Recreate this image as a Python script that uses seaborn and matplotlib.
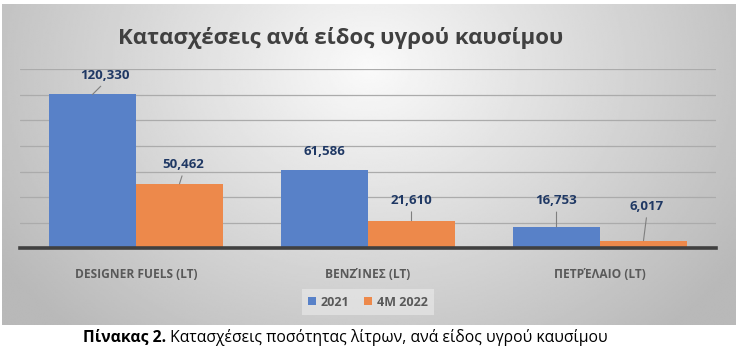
import numpy as np
import pandas as pd
import matplotlib.pyplot as plt
import seaborn as sns

# chart data
categories = ["DESIGNER FUELS (LT)", "ΒΕΝΖΊΝΕΣ (LT)", "ΠΕΤΡΈΛΑΙΟ (LT)"]
series_names = ["2021", "4M 2022"]
values_2021 = [120330, 61586, 16753]
values_4m2022 = [50462, 21610, 6017]

title = "Κατασχέσεις ανά είδος υγρού καυσίμου"
caption_bold = "Πίνακας 2."
caption_rest = " Κατασχέσεις ποσότητας λίτρων, ανά είδος υγρού καυσίμου"

df = pd.DataFrame({
    "category": categories * 2,
    "series": [series_names[0]] * 3 + [series_names[1]] * 3,
    "value": values_2021 + values_4m2022,
})

sns.set_style("white")
plt.rcParams['font.family'] = ['Open Sans', 'DejaVu Sans']

W, H = 741, 351
fig = plt.figure(figsize=(W / 100, H / 100), dpi=100, facecolor="white")

# gray radial gradient panel behind the chart
bg = fig.add_axes([2 / W, 1 - 325 / H, 734 / W, 321 / H], zorder=0)
u, v = np.meshgrid(np.linspace(0, 1, 400), np.linspace(0, 1, 200))
d = np.sqrt(((u - 0.5) / 0.6) ** 2 + ((v - 0.2) / 1.1) ** 2)
bg.imshow(250 - 65 * np.clip(d, 0, 1), cmap="gray", vmin=0, vmax=255,
          aspect="auto", extent=(0, 1, 0, 1), interpolation="bilinear")
bg.set_axis_off()

ax = fig.add_axes([20 / W, 1 - 248.3 / H, 696 / W, 179 / H], zorder=1)
ax.patch.set_alpha(0)

sns.barplot(data=df, x="category", y="value", hue="series",
            palette=["#5881C8", "#ED894B"], width=0.75, saturation=1,
            linewidth=0, ax=ax, zorder=2)

ax.set_ylim(0, 140000)
ax.set_xlim(-0.5, 2.5)
ax.set_yticks(range(0, 140001, 20000))
ax.yaxis.grid(True, color="#ababab", linewidth=0.9)
ax.set_axisbelow(True)
ax.tick_params(axis="y", left=False, labelleft=False)
ax.tick_params(axis="x", bottom=False, pad=11)
for s in ["top", "left", "right"]:
    ax.spines[s].set_visible(False)
ax.spines["bottom"].set_color("#404040")
ax.spines["bottom"].set_linewidth(2.6)
ax.spines["bottom"].set_zorder(3)
ax.set_xlabel("")
ax.set_ylabel("")
for lbl in ax.get_xticklabels():
    lbl.set_fontsize(8.6)
    lbl.set_fontweight("bold")
    lbl.set_color("#595959")

# data labels, offsets in px (label centre relative to bar top), leader or not
label_offsets = [[(12.5, 19), (0, 18), (0, 26)],
                 [(4, 19), (0, 20), (3.5, 34)]]
leaders = [[True, False, True],
           [True, True, True]]
for ci, cont in enumerate(ax.containers):
    for bi, bar in enumerate(cont):
        dx, dy = label_offsets[ci][bi]
        x = bar.get_x() + bar.get_width() / 2
        h = bar.get_height()
        arrow = None
        if leaders[ci][bi]:
            arrow = dict(arrowstyle="-", color="#7f7f7f", lw=0.8,
                         relpos=(0.5, 0), shrinkA=1, shrinkB=0)
        ax.annotate(f"{h:,.0f}", xy=(x, h), xytext=(dx * 0.72, dy * 0.72),
                    textcoords="offset points", ha="center", va="center",
                    fontsize=9.5, fontweight="bold", color="#1F3864",
                    arrowprops=arrow, zorder=4)

handles, labels = ax.get_legend_handles_labels()
ax.legend(handles, labels, ncol=2, loc="center",
          bbox_to_anchor=(368 / W, 1 - 302 / H), bbox_transform=fig.transFigure,
          frameon=True, facecolor="#ebebeb", edgecolor="none", framealpha=0.6,
          fancybox=False, handlelength=0.6, handleheight=0.6, handletextpad=0.4,
          columnspacing=1.2, borderpad=0.5,
          prop={"weight": "bold", "size": 9}, labelcolor="#595959")

fig.text(341 / W, 1 - 38 / H, title, ha="center", va="center",
         fontsize=16, fontweight="bold", color="#404040")

# caption: bold part + normal part, centred together
fig.canvas.draw()
r = fig.canvas.get_renderer()
t1 = fig.text(0, 1 - 337 / H, caption_bold, ha="left", va="center",
              fontsize=11.3, fontweight="bold", color="black")
t2 = fig.text(0, 1 - 337 / H, caption_rest, ha="left", va="center",
              fontsize=11.3, color="black")
w1 = t1.get_window_extent(r).width
w2 = t2.get_window_extent(r).width
x0 = 345 - (w1 + w2) / 2
t1.set_x(x0 / W)
t2.set_x((x0 + w1) / W)

fig.savefig("out.png", dpi=100, facecolor="white")
